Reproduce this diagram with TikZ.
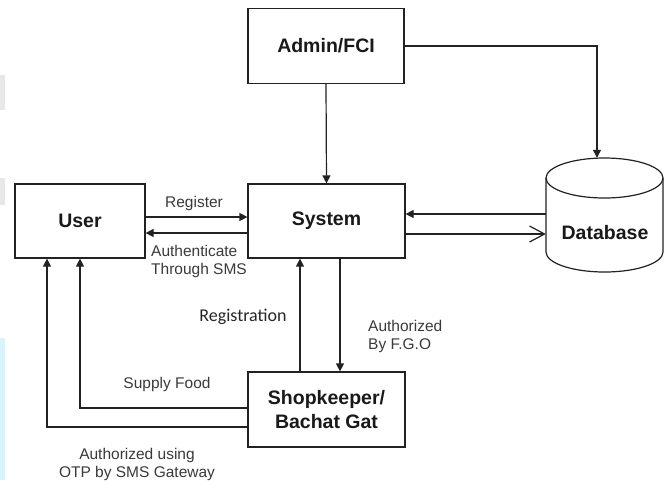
\documentclass[tikz,border=0pt]{standalone}
\usepackage{fontspec}
\setmainfont{Liberation Sans}
\newfontfamily\calfont{Carlito}
\usetikzlibrary{arrows.meta,calc}
\definecolor{linec}{HTML}{222222}
\definecolor{textc}{HTML}{3A3A3A}
\tikzset{
  box/.style={draw=linec, line width=1.2pt, minimum width=156pt, minimum height=75pt, inner sep=0pt, font=\fontsize{19.5}{24}\selectfont\bfseries, text=black!90, align=center},
  arr/.style={draw=linec, line width=1.2pt, -{Triangle[length=8pt,width=8pt]}},
  openarr/.style={draw=linec, line width=1.2pt, -{Straight Barb[length=15pt,width=16pt,line width=1.2pt]}},
  lbl/.style={font=\fontsize{15.5}{18}\selectfont, text=textc, inner sep=0pt},
}
\begin{document}
\begin{tikzpicture}[x=1pt,y=-1pt]
\useasboundingbox (0,0) rectangle (670,480);
\fill[white] (0,0) rectangle (670,480);
% faint edge artifacts
\fill[gray!18] (0,75) rectangle (5,110);
\fill[gray!18] (0,178) rectangle (5,205);
\fill[cyan!15] (0,338) rectangle (5,480);

\node[box] (admin) at (326,46) {Admin/FCI};
\node[box, minimum width=157pt, minimum height=74pt] (sys) at (326.5,221) {System};
\node[box, minimum width=130pt, minimum height=74pt] (user) at (80,221) {User};
\node[box, minimum width=157pt] (shop) at (326.5,409.5) {Shopkeeper/\\Bachat Gat};

% database cylinder
\node[minimum width=117pt, minimum height=114pt, inner sep=0pt] (db) at (604.5,215) {};
\draw[linec, line width=1.2pt] (604.5,178) ellipse[x radius=58.5, y radius=20];
\draw[linec, line width=1.2pt] (546,178) -- (546,252) arc[start angle=180, end angle=0, x radius=58.5, y radius=20] -- (663,178);
\node[font=\fontsize{19.5}{24}\selectfont\bfseries, text=black!90, inner sep=0pt] (dbl) at (605,233) {Database};

% connectors
\draw[arr] (admin.south) -- (sys.north);
\draw[arr] (admin.east) -| ($(db.north)+(-7.5,0)$);
\draw[arr] (user.east |- 0,217) -- (sys.west |- 0,217);
\draw[arr] (sys.west |- 0,233) -- (user.east |- 0,233);
\draw[arr] (db.west |- 0,214) -- (sys.east |- 0,214);
\draw[openarr] (sys.east |- 0,234) -- (db.west |- 0,234);
\draw[arr] (shop.north -| 300,0) -- (sys.south -| 300,0);
\draw[arr] (sys.south -| 340,0) -- (shop.north -| 340,0);
\draw[arr] (shop.west |- 0,408) -| (user.south -| 80,0);
\draw[arr] (shop.west |- 0,427) -| (user.south -| 47,0);

% labels
\node[lbl] (l1) at (194,203) {Register};
\node[lbl, anchor=west, align=left] (l2) at (151,261) {Authenticate\\Through SMS};
\node[lbl, font=\calfont\fontsize{18}{20}\selectfont, text=black!85] (l3) at (243,317) {Registration};
\node[lbl, anchor=west, align=left] (l4) at (368,336) {Authorized\\By F.G.O};
\node[lbl] (l5) at (167,384) {Supply Food};
\node[lbl, align=center] (l6) at (137,464) {Authorized using\\OTP by SMS Gateway};
\end{tikzpicture}
\end{document}
